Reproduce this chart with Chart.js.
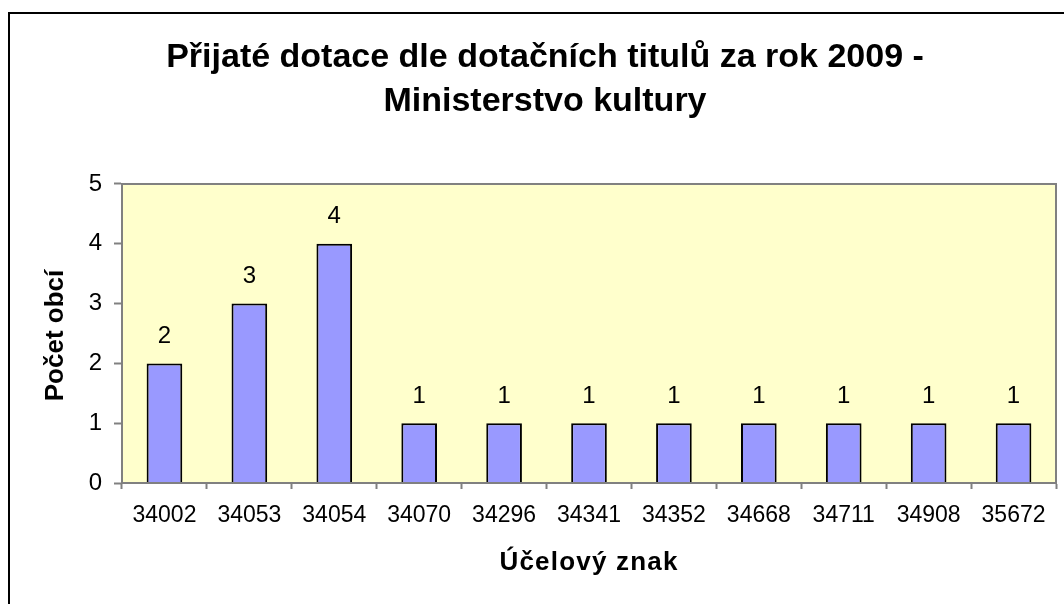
<!DOCTYPE html>
<html lang="cs">
<head>
  <meta charset="UTF-8">
  <title>Přijaté dotace - Ministerstvo kultury</title>
  <script src="https://cdn.jsdelivr.net/npm/chart.js"></script>
  <style>
    html, body {
      margin: 0;
      padding: 0;
      background: #ffffff;
    }
    #wrap {
      width: 1064px;
      height: 604px;
    }
  </style>
</head>
<body>

<div id="wrap">
  <canvas id="dotaceChart" width="1064" height="604"></canvas>
</div>

<script>
  // data
  const categories = ["34002", "34053", "34054", "34070", "34296", "34341", "34352", "34668", "34711", "34908", "35672"];
  const counts = [2, 3, 4, 1, 1, 1, 1, 1, 1, 1, 1];
  const yTicks = [0, 1, 2, 3, 4, 5];
  const xTitle = "Účelový znak";
  const yTitle = "Počet obcí";

  const FONT = "'Liberation Sans', Arial, sans-serif";

  // yellow plot background + grey frame around the plot area
  const plotArea = {
    id: "plotArea",
    beforeDatasetsDraw(chart) {
      const { ctx, chartArea: a } = chart;
      ctx.save();
      ctx.fillStyle = "#FFFFCC";
      ctx.fillRect(a.left, a.top, a.right - a.left, a.bottom - a.top);
      ctx.restore();
    },
    afterDraw(chart) {
      const { ctx, chartArea: a } = chart;
      ctx.save();
      ctx.strokeStyle = "#808080";
      ctx.lineWidth = 2;
      ctx.strokeRect(a.left, a.top, a.right - a.left, a.bottom - a.top);
      // outer chart frame (only top and left visible)
      ctx.strokeStyle = "#000000";
      ctx.lineWidth = 2;
      ctx.beginPath();
      ctx.moveTo(9, 604);
      ctx.lineTo(9, 13);
      ctx.lineTo(1064, 13);
      ctx.stroke();
      ctx.restore();
    }
  };

  // value labels above bars + axis titles (letter spaced like the original)
  const textLayer = {
    id: "textLayer",
    afterDatasetsDraw(chart) {
      const { ctx, chartArea: a } = chart;
      const meta = chart.getDatasetMeta(0);
      ctx.save();
      ctx.font = "24px " + FONT;
      ctx.fillStyle = "#000";
      ctx.textAlign = "center";
      ctx.textBaseline = "middle";
      meta.data.forEach((bar, i) => {
        ctx.fillText(String(counts[i]), bar.x, bar.y - 27);
      });

      // x axis title
      ctx.font = "bold 26px " + FONT;
      ctx.letterSpacing = "1.2px";
      ctx.fillText(xTitle, (a.left + a.right) / 2, 563);

      // y axis title
      ctx.letterSpacing = "0px";
      ctx.translate(56, (a.top + a.bottom) / 2 + 2);
      ctx.rotate(-Math.PI / 2);
      ctx.fillText(yTitle, 0, 0);
      ctx.restore();
    }
  };

  const ctx = document.getElementById("dotaceChart").getContext("2d");
  new Chart(ctx, {
    type: "bar",
    data: {
      labels: categories,
      datasets: [{
        label: yTitle,
        data: counts,
        backgroundColor: "#9999FF",
        borderColor: "#000000",
        borderWidth: 2,
        barPercentage: 0.42,
        categoryPercentage: 1.0
      }]
    },
    options: {
      responsive: false,
      animation: false,
      layout: {
        padding: { left: 34, right: 8, top: 0, bottom: 0 }
      },
      plugins: {
        legend: { display: false },
        tooltip: { enabled: false },
        title: {
          display: true,
          text: ["Přijaté dotace dle dotačních titulů za rok 2009 -", "Ministerstvo kultury"],
          color: "#000",
          font: { family: FONT, size: 34, weight: "bold", lineHeight: 1.294 },
          padding: { top: 36, bottom: 60 }
        }
      },
      scales: {
        x: {
          offset: true,
          grid: {
            display: true,
            offset: true,
            drawOnChartArea: false,
            drawTicks: true,
            tickLength: 6,
            tickWidth: 2,
            tickColor: "#808080"
          },
          border: { display: true, color: "#808080", width: 2 },
          ticks: {
            color: "#000",
            font: { family: FONT, size: 23 },
            padding: 13,
            maxRotation: 0,
            autoSkip: false
          },
          afterFit(scale) { scale.height = 604 - 483; }
        },
        y: {
          min: 0,
          max: 5,
          afterBuildTicks(scale) {
            scale.ticks = yTicks.map(v => ({ value: v }));
          },
          grid: {
            display: true,
            drawOnChartArea: false,
            drawTicks: true,
            tickLength: 8,
            tickWidth: 2,
            tickColor: "#808080"
          },
          border: { display: true, color: "#808080", width: 2 },
          ticks: {
            color: "#000",
            font: { family: FONT, size: 24 },
            padding: 12
          },
          afterFit(scale) { scale.width = 122 - 34; }
        }
      }
    },
    plugins: [plotArea, textLayer]
  });
</script>

</body>
</html>
